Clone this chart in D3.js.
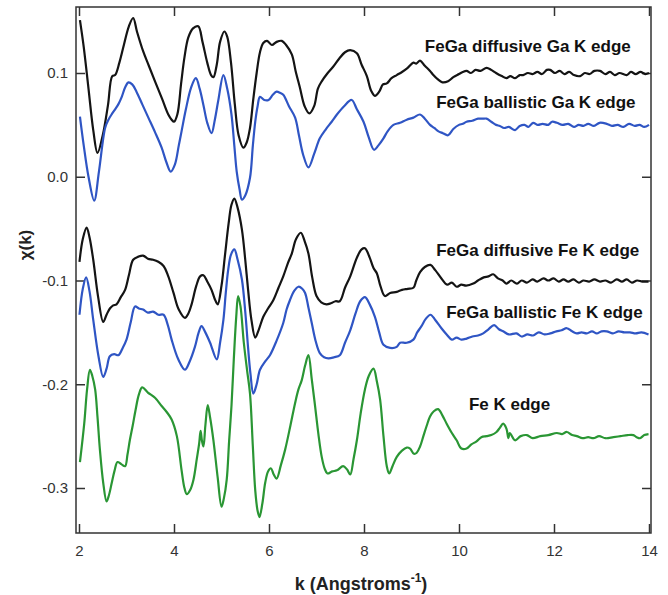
<!DOCTYPE html>
<html>
<head>
<meta charset="utf-8">
<script src="https://cdn.jsdelivr.net/npm/d3@7"></script>
<style>
	body {margin:0;background:#fff;}
	svg text {font-family:"Liberation Sans", Arial, sans-serif;}
	.frame {fill:none;stroke:#333;stroke-width:1.5;}
	.tick line {stroke:#333;stroke-width:1.5;}
	.tick text {fill:#333;font-size:15px;}
	.trace {fill:none;stroke-width:2.2;stroke-linejoin:round;}
	.serieslabel {font-size:17px;font-weight:bold;fill:#111;}
</style>
</head>
<body>
<svg id="chart" width="668" height="595"></svg>
<script>
// k (1/Angstrom), chi(k) pairs
var gaDiffusive = [[2.02,0.151],[2.1,0.125],[2.2,0.085],[2.3,0.045],[2.39,0.023],[2.5,0.040],[2.61,0.069],[2.70,0.097],[2.76,0.098],[2.85,0.110],[2.95,0.128],[3.05,0.145],[3.14,0.153],[3.22,0.140],[3.35,0.121],[3.47,0.107],[3.60,0.092],[3.75,0.075],[3.88,0.060],[3.95,0.055],[4.0,0.053],[4.07,0.060],[4.15,0.090],[4.22,0.115],[4.30,0.134],[4.40,0.143],[4.51,0.145],[4.60,0.130],[4.70,0.110],[4.78,0.098],[4.83,0.096],[4.90,0.108],[4.97,0.130],[5.06,0.140],[5.12,0.135],[5.20,0.110],[5.28,0.070],[5.36,0.040],[5.46,0.028],[5.53,0.033],[5.60,0.047],[5.67,0.075],[5.74,0.10],[5.81,0.120],[5.88,0.129],[5.96,0.131],[6.06,0.127],[6.16,0.130],[6.27,0.131],[6.36,0.127],[6.48,0.118],[6.56,0.102],[6.65,0.086],[6.75,0.068],[6.85,0.061],[6.95,0.068],[7.03,0.085],[7.11,0.092],[7.22,0.099],[7.35,0.106],[7.48,0.114],[7.60,0.120],[7.71,0.122],[7.85,0.119],[7.95,0.108],[8.06,0.097],[8.15,0.083],[8.23,0.078],[8.32,0.082],[8.40,0.089],[8.48,0.090],[8.58,0.095],[8.69,0.098],[8.80,0.101],[8.92,0.105],[9.04,0.110],[9.10,0.109],[9.18,0.112],[9.28,0.107],[9.39,0.102],[9.46,0.098],[9.55,0.094],[9.65,0.091],[9.77,0.092],[9.88,0.096],[10.0,0.099],[10.08,0.101],[10.16,0.102],[10.25,0.100],[10.35,0.103],[10.45,0.102],[10.58,0.105],[10.68,0.103],[10.78,0.100],[10.90,0.097],[11.0,0.095],[11.08,0.097],[11.18,0.095],[11.28,0.098],[11.35,0.098],[11.45,0.100],[11.55,0.099],[11.65,0.101],[11.75,0.099],[11.85,0.103],[11.92,0.103],[12.02,0.100],[12.12,0.102],[12.22,0.099],[12.32,0.101],[12.42,0.098],[12.55,0.097],[12.65,0.100],[12.75,0.099],[12.85,0.102],[12.97,0.102],[13.08,0.099],[13.18,0.101],[13.28,0.098],[13.38,0.100],[13.53,0.098],[13.62,0.101],[13.72,0.099],[13.82,0.101],[13.92,0.099],[14.0,0.100]];

var gaBallistic = [[2.02,0.058],[2.1,0.030],[2.2,0.000],[2.32,-0.023],[2.42,0.005],[2.55,0.047],[2.62,0.055],[2.70,0.061],[2.76,0.065],[2.83,0.070],[2.90,0.077],[2.97,0.086],[3.04,0.091],[3.12,0.089],[3.21,0.082],[3.33,0.070],[3.46,0.057],[3.60,0.043],[3.74,0.028],[3.84,0.014],[3.93,0.005],[4.02,0.012],[4.10,0.030],[4.16,0.044],[4.25,0.065],[4.36,0.086],[4.46,0.095],[4.54,0.085],[4.62,0.069],[4.70,0.052],[4.79,0.042],[4.86,0.055],[4.93,0.073],[5.04,0.098],[5.12,0.085],[5.21,0.060],[5.27,0.030],[5.32,0.005],[5.38,-0.012],[5.43,-0.022],[5.50,-0.018],[5.60,-0.001],[5.66,0.030],[5.71,0.053],[5.76,0.068],[5.81,0.077],[5.90,0.074],[5.99,0.074],[6.08,0.079],[6.16,0.082],[6.23,0.081],[6.30,0.079],[6.42,0.068],[6.55,0.057],[6.63,0.040],[6.72,0.021],[6.83,0.009],[6.95,0.022],[7.07,0.037],[7.20,0.046],[7.32,0.053],[7.43,0.060],[7.58,0.068],[7.74,0.074],[7.85,0.065],[7.99,0.053],[8.10,0.038],[8.21,0.026],[8.30,0.030],[8.41,0.037],[8.50,0.044],[8.62,0.050],[8.76,0.052],[8.90,0.055],[9.04,0.057],[9.18,0.060],[9.28,0.056],[9.39,0.050],[9.48,0.047],[9.56,0.044],[9.66,0.042],[9.77,0.040],[9.88,0.046],[10.0,0.050],[10.08,0.051],[10.16,0.053],[10.28,0.054],[10.40,0.056],[10.50,0.056],[10.58,0.056],[10.68,0.053],[10.78,0.050],[10.86,0.049],[10.95,0.047],[11.05,0.048],[11.18,0.045],[11.28,0.049],[11.38,0.050],[11.46,0.048],[11.56,0.052],[11.66,0.050],[11.76,0.051],[11.88,0.050],[11.96,0.053],[12.06,0.052],[12.18,0.050],[12.30,0.051],[12.42,0.048],[12.52,0.050],[12.62,0.049],[12.72,0.051],[12.84,0.049],[12.96,0.052],[13.11,0.051],[13.22,0.049],[13.34,0.050],[13.46,0.048],[13.58,0.051],[13.70,0.049],[13.80,0.050],[13.90,0.048],[14.0,0.050]];

var feDiffusive = [[2.01,-0.082],[2.08,-0.060],[2.16,-0.049],[2.22,-0.058],[2.30,-0.080],[2.40,-0.115],[2.51,-0.140],[2.58,-0.133],[2.65,-0.127],[2.72,-0.124],[2.79,-0.123],[2.88,-0.116],[2.97,-0.109],[3.05,-0.095],[3.14,-0.080],[3.25,-0.077],[3.35,-0.076],[3.45,-0.079],[3.56,-0.080],[3.67,-0.082],[3.78,-0.086],[3.88,-0.096],[3.99,-0.112],[4.10,-0.128],[4.23,-0.136],[4.30,-0.132],[4.37,-0.123],[4.47,-0.105],[4.55,-0.096],[4.62,-0.095],[4.70,-0.101],[4.79,-0.109],[4.86,-0.118],[4.92,-0.123],[5.00,-0.105],[5.07,-0.077],[5.15,-0.045],[5.21,-0.027],[5.27,-0.021],[5.34,-0.030],[5.43,-0.051],[5.50,-0.080],[5.56,-0.109],[5.63,-0.138],[5.71,-0.155],[5.78,-0.148],[5.88,-0.135],[5.98,-0.127],[6.09,-0.119],[6.20,-0.107],[6.30,-0.096],[6.40,-0.083],[6.48,-0.074],[6.57,-0.060],[6.67,-0.054],[6.75,-0.062],[6.83,-0.074],[6.91,-0.097],[7.00,-0.115],[7.10,-0.121],[7.21,-0.123],[7.30,-0.122],[7.40,-0.120],[7.49,-0.120],[7.60,-0.107],[7.71,-0.096],[7.85,-0.078],[7.95,-0.070],[8.02,-0.069],[8.12,-0.078],[8.20,-0.088],[8.27,-0.093],[8.35,-0.106],[8.44,-0.115],[8.55,-0.112],[8.69,-0.111],[8.80,-0.109],[8.92,-0.108],[9.04,-0.107],[9.10,-0.100],[9.18,-0.092],[9.28,-0.087],[9.40,-0.085],[9.50,-0.090],[9.63,-0.098],[9.75,-0.104],[9.85,-0.102],[9.95,-0.106],[10.05,-0.104],[10.15,-0.105],[10.30,-0.103],[10.40,-0.100],[10.52,-0.097],[10.62,-0.096],[10.72,-0.094],[10.82,-0.098],[10.92,-0.100],[11.0,-0.103],[11.10,-0.100],[11.22,-0.103],[11.32,-0.100],[11.43,-0.102],[11.55,-0.099],[11.65,-0.101],[11.78,-0.098],[11.88,-0.100],[11.99,-0.098],[12.10,-0.101],[12.20,-0.099],[12.30,-0.101],[12.41,-0.099],[12.52,-0.102],[12.62,-0.100],[12.74,-0.101],[12.85,-0.099],[12.97,-0.101],[13.08,-0.100],[13.20,-0.102],[13.32,-0.099],[13.43,-0.101],[13.53,-0.099],[13.64,-0.102],[13.75,-0.100],[13.86,-0.101],[13.99,-0.101]];

var feBallistic = [[2.01,-0.133],[2.08,-0.108],[2.15,-0.097],[2.22,-0.110],[2.30,-0.138],[2.41,-0.173],[2.51,-0.193],[2.58,-0.185],[2.65,-0.173],[2.74,-0.171],[2.83,-0.172],[2.92,-0.165],[3.00,-0.157],[3.09,-0.140],[3.18,-0.125],[3.26,-0.127],[3.35,-0.128],[3.45,-0.131],[3.56,-0.130],[3.67,-0.133],[3.78,-0.133],[3.87,-0.143],[3.95,-0.157],[4.09,-0.176],[4.23,-0.186],[4.33,-0.178],[4.44,-0.164],[4.52,-0.150],[4.58,-0.144],[4.66,-0.150],[4.76,-0.160],[4.90,-0.176],[4.97,-0.160],[5.04,-0.138],[5.09,-0.112],[5.14,-0.090],[5.20,-0.075],[5.27,-0.070],[5.34,-0.080],[5.43,-0.099],[5.50,-0.130],[5.56,-0.165],[5.61,-0.190],[5.67,-0.209],[5.74,-0.200],[5.81,-0.186],[5.92,-0.178],[6.02,-0.172],[6.16,-0.158],[6.30,-0.141],[6.37,-0.128],[6.44,-0.119],[6.53,-0.110],[6.62,-0.106],[6.70,-0.108],[6.76,-0.112],[6.83,-0.126],[6.90,-0.141],[6.98,-0.158],[7.07,-0.170],[7.16,-0.174],[7.25,-0.175],[7.37,-0.174],[7.49,-0.172],[7.60,-0.160],[7.71,-0.148],[7.82,-0.132],[7.92,-0.120],[8.02,-0.116],[8.12,-0.123],[8.23,-0.135],[8.32,-0.150],[8.41,-0.162],[8.55,-0.165],[8.69,-0.164],[8.76,-0.160],[8.90,-0.160],[9.04,-0.157],[9.12,-0.150],[9.21,-0.144],[9.30,-0.137],[9.40,-0.133],[9.50,-0.138],[9.63,-0.146],[9.74,-0.152],[9.85,-0.157],[9.95,-0.155],[10.05,-0.157],[10.16,-0.156],[10.28,-0.154],[10.40,-0.153],[10.51,-0.151],[10.62,-0.147],[10.74,-0.143],[10.84,-0.147],[10.93,-0.149],[11.05,-0.152],[11.21,-0.151],[11.32,-0.154],[11.44,-0.152],[11.56,-0.153],[11.68,-0.150],[11.80,-0.152],[11.92,-0.151],[12.05,-0.149],[12.16,-0.148],[12.27,-0.146],[12.38,-0.149],[12.48,-0.151],[12.58,-0.150],[12.69,-0.151],[12.80,-0.149],[12.90,-0.151],[13.00,-0.149],[13.11,-0.149],[13.24,-0.151],[13.36,-0.149],[13.48,-0.150],[13.60,-0.150],[13.72,-0.151],[13.84,-0.150],[13.99,-0.152]];

var feEdge = [[2.02,-0.275],[2.11,-0.238],[2.17,-0.205],[2.23,-0.186],[2.28,-0.192],[2.34,-0.205],[2.39,-0.232],[2.44,-0.263],[2.51,-0.295],[2.58,-0.313],[2.63,-0.307],[2.69,-0.295],[2.75,-0.283],[2.81,-0.275],[2.89,-0.277],[2.97,-0.279],[3.02,-0.268],[3.07,-0.254],[3.13,-0.240],[3.19,-0.225],[3.26,-0.210],[3.33,-0.203],[3.45,-0.208],[3.60,-0.213],[3.74,-0.221],[3.85,-0.227],[3.95,-0.234],[4.06,-0.250],[4.16,-0.283],[4.22,-0.300],[4.27,-0.306],[4.34,-0.302],[4.41,-0.292],[4.48,-0.272],[4.53,-0.257],[4.56,-0.245],[4.59,-0.255],[4.62,-0.260],[4.66,-0.240],[4.71,-0.220],[4.76,-0.232],[4.83,-0.254],[4.92,-0.290],[5.00,-0.318],[5.05,-0.310],[5.11,-0.292],[5.16,-0.255],[5.21,-0.221],[5.26,-0.175],[5.31,-0.135],[5.35,-0.115],[5.40,-0.125],[5.47,-0.160],[5.54,-0.187],[5.60,-0.209],[5.66,-0.260],[5.71,-0.302],[5.76,-0.322],[5.80,-0.328],[5.86,-0.315],[5.92,-0.295],[5.98,-0.284],[6.04,-0.281],[6.10,-0.287],[6.16,-0.291],[6.25,-0.278],[6.34,-0.263],[6.45,-0.240],[6.55,-0.218],[6.62,-0.205],[6.69,-0.196],[6.76,-0.182],[6.83,-0.172],[6.90,-0.195],[6.97,-0.221],[7.04,-0.248],[7.11,-0.270],[7.17,-0.281],[7.23,-0.286],[7.33,-0.284],[7.43,-0.283],[7.56,-0.279],[7.64,-0.282],[7.71,-0.287],[7.78,-0.272],[7.85,-0.254],[7.93,-0.228],[8.02,-0.205],[8.10,-0.192],[8.20,-0.185],[8.27,-0.197],[8.34,-0.215],[8.41,-0.250],[8.48,-0.279],[8.53,-0.286],[8.60,-0.279],[8.69,-0.270],[8.80,-0.264],[8.90,-0.261],[8.97,-0.262],[9.05,-0.267],[9.11,-0.266],[9.18,-0.260],[9.25,-0.250],[9.32,-0.240],[9.39,-0.231],[9.47,-0.226],[9.56,-0.224],[9.65,-0.230],[9.74,-0.238],[9.85,-0.247],[9.95,-0.254],[10.05,-0.262],[10.16,-0.262],[10.26,-0.258],[10.37,-0.255],[10.47,-0.251],[10.58,-0.250],[10.68,-0.249],[10.79,-0.246],[10.86,-0.242],[10.93,-0.238],[11.00,-0.243],[11.04,-0.252],[11.07,-0.247],[11.18,-0.254],[11.30,-0.250],[11.43,-0.249],[11.55,-0.252],[11.71,-0.250],[11.88,-0.249],[12.06,-0.247],[12.17,-0.248],[12.27,-0.246],[12.38,-0.249],[12.48,-0.250],[12.60,-0.252],[12.72,-0.251],[12.83,-0.252],[12.95,-0.250],[13.08,-0.252],[13.25,-0.251],[13.40,-0.250],[13.55,-0.249],[13.67,-0.249],[13.74,-0.251],[13.81,-0.252],[13.90,-0.249],[13.99,-0.248]];

var xTicks = [2, 4, 6, 8, 10, 12, 14];
var yTicks = [0.1, 0.0, -0.1, -0.2, -0.3];

var seriesNames = ["FeGa diffusive Ga K edge", "FeGa ballistic Ga K edge", "FeGa diffusive Fe K edge", "FeGa ballistic Fe K edge", "Fe K edge"];
var seriesColors = ["#141414", "#2f55c4", "#141414", "#2f55c4", "#2a9634"];
// where each label starts, in data units (k, chi)
var labelSpots = [[9.28, 0.1205], [9.52, 0.066], [9.52, -0.076], [9.73, -0.136], [10.21, -0.225]];

var svg = d3.select("#chart");
var frameLeft = 76, frameRight = 651, frameTop = 7, frameBottom = 533;

var x = d3.scaleLinear().domain([2, 14]).range([79, 649]);
var y = d3.scaleLinear().domain([0.1, -0.3]).range([73, 488]);

var line = d3.line()
	.x(function(d) {return x(d[0]);})
	.y(function(d) {return y(d[1]);})
	.curve(d3.curveCatmullRom.alpha(0.5))
;

function yFormat(v) {
	return d3.format(".1f")(v).replace("\u2212", "-");
}

function drawAxes() {
	svg.append("g")
		.attr("transform", "translate(0," + frameBottom + ")")
		.call(d3.axisBottom(x).tickValues(xTicks).tickSizeInner(-9).tickSizeOuter(0).tickPadding(12).tickFormat(d3.format("d")))
		.call(function(g) {g.select(".domain").remove();})
	;
	svg.append("g")
		.attr("transform", "translate(0," + frameTop + ")")
		.call(d3.axisTop(x).tickValues(xTicks).tickSizeInner(-9).tickSizeOuter(0).tickFormat(""))
		.call(function(g) {g.select(".domain").remove();})
	;
	svg.append("g")
		.attr("transform", "translate(" + frameLeft + ",0)")
		.call(d3.axisLeft(y).tickValues(yTicks).tickSizeInner(-9).tickSizeOuter(0).tickPadding(8).tickFormat(yFormat))
		.call(function(g) {g.select(".domain").remove();})
	;
	svg.append("g")
		.attr("transform", "translate(" + frameRight + ",0)")
		.call(d3.axisRight(y).tickValues(yTicks).tickSizeInner(-9).tickSizeOuter(0).tickFormat(""))
		.call(function(g) {g.select(".domain").remove();})
	;
	svg.append("rect")
		.attr("class", "frame")
		.attr("x", frameLeft)
		.attr("y", frameTop)
		.attr("width", frameRight - frameLeft)
		.attr("height", frameBottom - frameTop)
	;
}

function drawTitles() {
	var xt = svg.append("text")
		.attr("x", 361)
		.attr("y", 590)
		.style("text-anchor", "middle")
		.style("font-size", "18px")
		.style("font-weight", "bold")
		.style("fill", "#222")
	;
	xt.append("tspan").text("k (Angstroms");
	xt.append("tspan").attr("dy", -8).style("font-size", "12px").text("-1");
	xt.append("tspan").attr("dy", 8).text(")");

	svg.append("text")
		.attr("transform", "translate(31,245) rotate(-90)")
		.style("text-anchor", "middle")
		.style("font-size", "17px")
		.style("font-weight", "bold")
		.style("fill", "#222")
		.text("\u03c7(k)")
	;
}

drawAxes();

var traces = [gaDiffusive, gaBallistic, feDiffusive, feBallistic, feEdge];
svg.append("g").selectAll("path.trace")
	.data(traces)
	.enter().append("path")
		.attr("class", "trace")
		.attr("d", line)
		.style("stroke", function(d, i) {return seriesColors[i];})
;

svg.append("g").selectAll("text.serieslabel")
	.data(seriesNames)
	.enter().append("text")
		.attr("class", "serieslabel")
		.attr("x", function(d, i) {return x(labelSpots[i][0]);})
		.attr("y", function(d, i) {return y(labelSpots[i][1]);})
		.text(function(d) {return d;})
;

drawTitles();
</script>
</body>
</html>
